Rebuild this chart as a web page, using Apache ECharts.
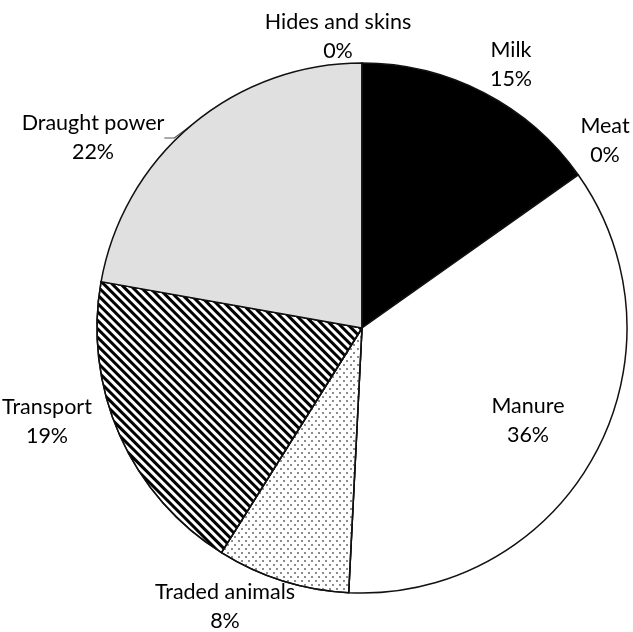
<!DOCTYPE html>
<html>
<head>
<meta charset="utf-8">
<script src="https://cdn.jsdelivr.net/npm/echarts@6/dist/echarts.min.js"></script>
<style>
  html, body { margin: 0; padding: 0; background: #fff; }
  #chart { width: 633px; height: 632px; }
</style>
</head>
<body>
<div id="chart"></div>
<script>
// Uses of livestock, share of total value (%), clockwise from 12 o'clock
const categories = ['Milk', 'Meat', 'Manure', 'Traded animals', 'Transport', 'Draught power', 'Hides and skins'];
const shares = [15.2, 0, 35.6, 8.1, 18.9, 22.2, 0];

// Fill for each slice
const fills = ['#000000', '#ffffff', '#ffffff', '#ffffff', '#ffffff', '#e0e0e0', '#ffffff'];

// Hatch / dot patterns (null = plain fill)
const hatch = {
  symbol: 'rect', symbolSize: 1, color: '#000',
  dashArrayX: [1, 0], dashArrayY: [3, 2.7], rotation: Math.PI / 4
};
const dots = {
  symbol: 'circle', symbolSize: 1, color: '#666',
  dashArrayX: [[1.6, 4.4], [0, 3, 1.6, 1.4]], dashArrayY: [1.6, 1.6], rotation: 0
};
const patterns = [null, null, null, dots, hatch, null, null];

// Label anchor (centre of the two-line label block)
const labelSpots = [
  [511, 65], [605, 141], [528, 421], [225, 607], [47, 422], [93, 138], [338, 37]
];

const chart = echarts.init(document.getElementById('chart'), null, { renderer: 'canvas' });

const data = categories.map((name, i) => {
  const item = {
    name,
    value: shares[i],
    itemStyle: { color: fills[i] },
    labelLine: { show: name === 'Draught power' }
  };
  if (patterns[i]) item.itemStyle.decal = patterns[i];
  return item;
});

chart.setOption({
  backgroundColor: '#fff',
  animation: false,
  series: [{
    type: 'pie',
    center: [362, 328],
    radius: 265,
    startAngle: 90,
    clockwise: true,
    percentPrecision: 0,
    stillShowZeroSum: true,
    avoidLabelOverlap: false,
    itemStyle: { borderColor: '#111', borderWidth: 1.5 },
    emphasis: { disabled: true },
    label: {
      show: true,
      position: 'outside',
      formatter: '{b}\n{d}%',
      fontFamily: 'Lato',
      fontSize: 21.5,
      lineHeight: 29,
      color: '#000',
      align: 'center'
    },
    labelLine: {
      show: false,
      length: 8,
      length2: 10,
      lineStyle: { color: '#555', width: 1.2 }
    },
    labelLayout: function (params) {
      const p = labelSpots[params.dataIndex];
      return { x: p[0], y: p[1], align: 'center', verticalAlign: 'middle' };
    },
    data
  }]
});
</script>
</body>
</html>
